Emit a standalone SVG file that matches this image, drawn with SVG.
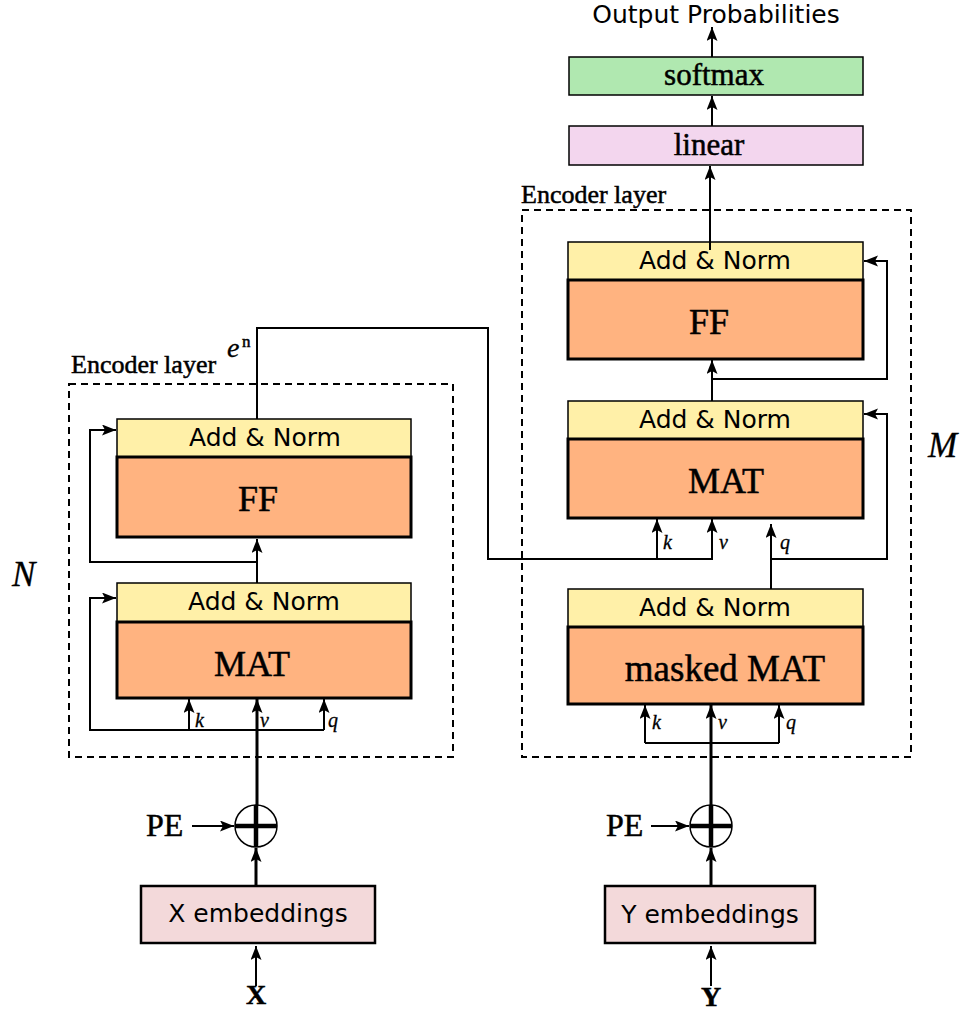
<svg xmlns="http://www.w3.org/2000/svg" width="971" height="1012" viewBox="0 0 971 1012">
<defs>
<marker id="ah" markerUnits="userSpaceOnUse" markerWidth="16" markerHeight="12" refX="14" refY="5.5" orient="auto">
<path d="M0,0 L14,5.5 L0,11 L3,5.5 z" fill="#000"/>
</marker>
<style>
.an{fill:#fff0a8;stroke:#000;stroke-width:1.5}
.op{fill:#ffb380;stroke:#000;stroke-width:3}
.emb{fill:#f3d9da;stroke:#000;stroke-width:2.5}
.dash{fill:none;stroke:#000;stroke-width:2;stroke-dasharray:7,5}
.sans{font-family:"DejaVu Sans",sans-serif;fill:#000}
.ser{font-family:"Liberation Serif","Times New Roman",serif;fill:#000;stroke:#000;stroke-width:0.5}
.it{font-family:"Liberation Serif","Times New Roman",serif;font-style:italic;fill:#000;stroke:#000;stroke-width:0.3}
.ln{fill:none;stroke:#000;stroke-width:2}
.thk{fill:none;stroke:#000;stroke-width:3}
</style>
</defs>
<rect width="971" height="1012" fill="#fff"/>

<g id="enc-frame">
<rect class="dash" x="69" y="384" width="384" height="373"/>
<text class="ser" x="71" y="373" font-size="26" stroke-width="0.2">Encoder layer</text>
<text class="it" x="12" y="586" font-size="35">N</text>
</g>
<g id="dec-frame">
<rect class="dash" x="522" y="210" width="389" height="547"/>
<text class="ser" x="521" y="203" font-size="26" stroke-width="0.2">Encoder layer</text>
<text class="it" x="928" y="457" font-size="35">M</text>
</g>

<g id="enc-addnorm2"><rect class="an" x="117" y="419" width="294" height="38"/><text class="sans" x="265" y="446" font-size="25" text-anchor="middle">Add &amp; Norm</text></g>
<g id="enc-ff"><rect class="op" x="117" y="457" width="294" height="80"/><text class="ser" x="258" y="511" font-size="36" text-anchor="middle">FF</text></g>
<g id="enc-addnorm1"><rect class="an" x="117" y="583" width="294" height="39"/><text class="sans" x="264" y="610" font-size="25" text-anchor="middle">Add &amp; Norm</text></g>
<g id="enc-mat"><rect class="op" x="117" y="622" width="294" height="76"/><text class="ser" x="252" y="676" font-size="36" text-anchor="middle">MAT</text></g>

<g id="x-emb"><rect class="emb" x="141" y="886" width="234" height="57"/><text class="sans" x="258" y="922" font-size="25" text-anchor="middle">X embeddings</text></g>
<g id="x-in"><text class="ser" x="256" y="1004" font-size="28" font-weight="bold" text-anchor="middle">X</text></g>
<g id="enc-pe"><text class="ser" x="146" y="836" font-size="32">PE</text>
<circle cx="256" cy="826" r="21" fill="#fff" stroke="#000" stroke-width="1.5"/>
<path d="M256,805 V847 M235,826 H277" stroke="#000" stroke-width="4.5"/></g>

<g id="dec-addnorm3"><rect class="an" x="568" y="242" width="295" height="38"/><text class="sans" x="715" y="269" font-size="25" text-anchor="middle">Add &amp; Norm</text></g>
<g id="dec-ff"><rect class="op" x="568" y="280" width="295" height="79"/><text class="ser" x="709" y="334" font-size="36" text-anchor="middle">FF</text></g>
<g id="dec-addnorm2"><rect class="an" x="568" y="401" width="295" height="38"/><text class="sans" x="715" y="428" font-size="25" text-anchor="middle">Add &amp; Norm</text></g>
<g id="dec-mat"><rect class="op" x="568" y="439" width="295" height="79"/><text class="ser" x="726" y="493" font-size="36" text-anchor="middle">MAT</text></g>
<g id="dec-addnorm1"><rect class="an" x="568" y="589" width="295" height="38"/><text class="sans" x="715" y="616" font-size="25" text-anchor="middle">Add &amp; Norm</text></g>
<g id="dec-masked"><rect class="op" x="568" y="627" width="295" height="77"/><text class="ser" x="725" y="681" font-size="37" text-anchor="middle">masked MAT</text></g>

<g id="y-emb"><rect class="emb" x="605" y="886" width="210" height="57"/><text class="sans" x="710" y="923" font-size="25" text-anchor="middle">Y embeddings</text></g>
<g id="y-in"><text class="ser" x="711" y="1006" font-size="28" font-weight="bold" text-anchor="middle">Y</text></g>
<g id="dec-pe"><text class="ser" x="606" y="836" font-size="32">PE</text>
<circle cx="711" cy="826" r="21" fill="#fff" stroke="#000" stroke-width="1.5"/>
<path d="M711,805 V847 M690,826 H732" stroke="#000" stroke-width="4.5"/></g>

<g id="linear"><rect x="569" y="126" width="294" height="39" fill="#f3d6ee" stroke="#000" stroke-width="1.5"/><text class="ser" x="709" y="155" font-size="31" text-anchor="middle" stroke-width="0.3">linear</text></g>
<g id="softmax"><rect x="569" y="57" width="294" height="38" fill="#b0e8b0" stroke="#000" stroke-width="1.5"/><text class="ser" x="714" y="85" font-size="31" text-anchor="middle" stroke-width="0.3">softmax</text></g>
<g id="output"><text class="sans" x="716" y="23" font-size="25" text-anchor="middle">Output Probabilities</text></g>

<g id="connectors">
<path class="ln" d="M256,986 V946" marker-end="url(#ah)"/>
<path class="thk" d="M256,886 V848" marker-end="url(#ah)"/>
<path class="ln" d="M192,826 H234" marker-end="url(#ah)"/>
<path class="thk" d="M257,805 V699" marker-end="url(#ah)"/>
<path class="ln" d="M324,730 H90 V598 H116" marker-end="url(#ah)"/>
<path class="ln" d="M189,730 V699" marker-end="url(#ah)"/>
<path class="ln" d="M324,730 V699" marker-end="url(#ah)"/>
<path class="ln" d="M257,583 V539" marker-end="url(#ah)"/>
<path class="ln" d="M257,562 H90 V430 H116" marker-end="url(#ah)"/>
<path class="ln" d="M257,419 V328 H488 V559 H712 V519" marker-end="url(#ah)"/>
<path class="ln" d="M657,559 V519" marker-end="url(#ah)"/>
<path class="ln" d="M711,986 V946" marker-end="url(#ah)"/>
<path class="thk" d="M711,886 V848" marker-end="url(#ah)"/>
<path class="ln" d="M651,826 H689" marker-end="url(#ah)"/>
<path class="thk" d="M711,805 V705" marker-end="url(#ah)"/>
<path class="ln" d="M645,743 H779"/>
<path class="ln" d="M645,743 V705" marker-end="url(#ah)"/>
<path class="ln" d="M779,743 V705" marker-end="url(#ah)"/>
<path class="ln" d="M771,589 V524" marker-end="url(#ah)"/>
<path class="ln" d="M771,559 H887 V414 H864" marker-end="url(#ah)"/>
<path class="ln" d="M712,401 V360" marker-end="url(#ah)"/>
<path class="ln" d="M712,379 H887 V261 H864" marker-end="url(#ah)"/>
<path class="ln" d="M710,250 V166" marker-end="url(#ah)"/>
<path class="ln" d="M712,126 V96" marker-end="url(#ah)"/>
<path class="ln" d="M712,57 V27" marker-end="url(#ah)"/>
</g>

<g id="labels">
<text class="it" x="195" y="727" font-size="20">k</text>
<text class="it" x="260" y="727" font-size="20">v</text>
<text class="it" x="328" y="727" font-size="20">q</text>
<text class="it" x="663" y="549" font-size="20">k</text>
<text class="it" x="719" y="549" font-size="20">v</text>
<text class="it" x="780" y="549" font-size="20">q</text>
<text class="it" x="652" y="729" font-size="20">k</text>
<text class="it" x="718" y="729" font-size="20">v</text>
<text class="it" x="786" y="729" font-size="20">q</text>
<text class="it" x="227" y="357" font-size="28">e</text>
<text class="ser" x="242" y="347" font-size="17" stroke-width="0.2">n</text>
</g>
</svg>
